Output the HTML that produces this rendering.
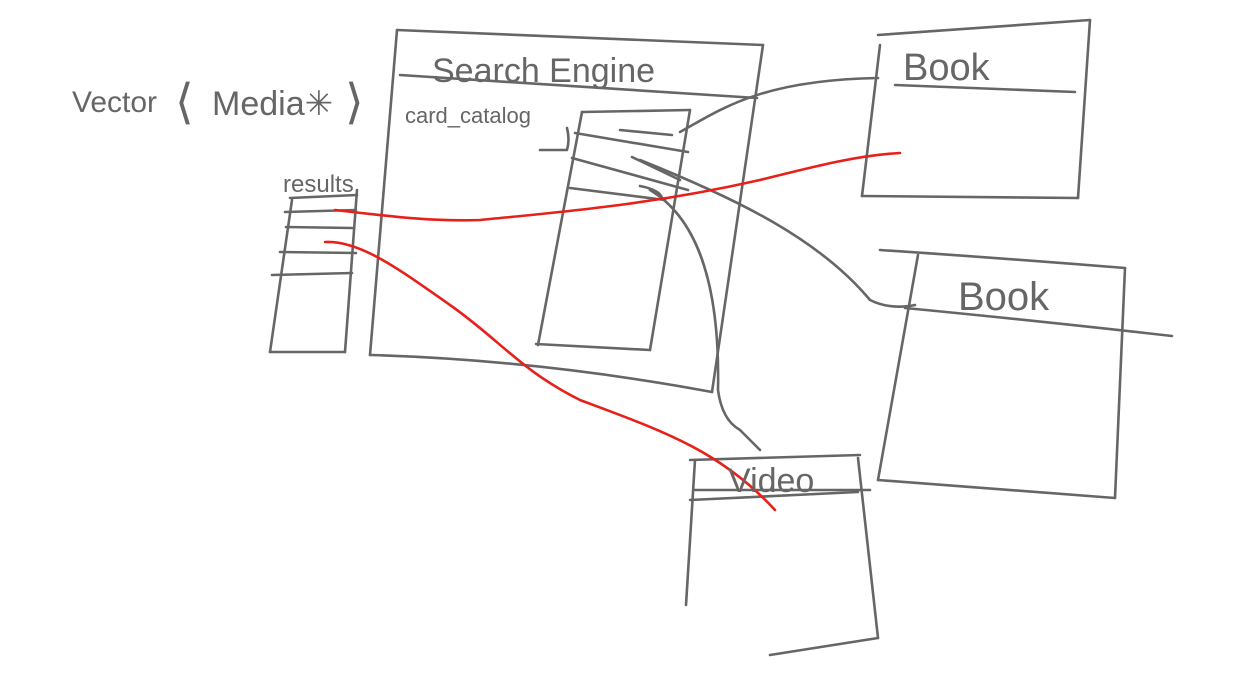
<!DOCTYPE html>
<html><head><meta charset="utf-8"><style>
html,body{margin:0;padding:0;background:#fff;}
svg{display:block;}
text{font-family:"Liberation Sans",sans-serif;fill:#666;}
</style></head><body>
<svg width="1257" height="675" viewBox="0 0 1257 675" xmlns="http://www.w3.org/2000/svg">
<g fill="none" stroke="#666" stroke-width="2.6" stroke-linecap="round" stroke-linejoin="round">
<path d="M397,30 L763,45"/>
<path d="M397,30 L370,355"/>
<path d="M370,355 Q540,360 712,392"/>
<path d="M763,45 L712,392"/>
<path d="M400,75 L757,98"/>
<path d="M582,112 L690,110"/>
<path d="M582,112 L538,345"/>
<path d="M690,110 L650,350"/>
<path d="M536,344 L650,350"/>
<path d="M575,133 L688,152"/>
<path d="M620,130 L672,135"/>
<path d="M572,158 L688,190"/>
<path d="M632,157 L680,180"/>
<path d="M570,188 L665,200"/>
<path d="M640,186 Q660,190 662,198"/>
<path d="M540,150 L567,150 Q570,140 567,128"/>
<path d="M290,198 L357,195"/>
<path d="M285,212 L356,210"/>
<path d="M286,227 L352,228"/>
<path d="M280,252 L356,253"/>
<path d="M272,275 L352,273"/>
<path d="M292,200 L270,352"/>
<path d="M357,190 L345,352"/>
<path d="M270,352 L345,352"/>
<path d="M878,35 L1090,20"/>
<path d="M1090,20 L1078,198"/>
<path d="M880,45 L862,196"/>
<path d="M862,196 L1078,198"/>
<path d="M895,85 L1075,92"/>
<path d="M880,250 Q1000,258 1125,268"/>
<path d="M918,255 L878,480"/>
<path d="M1125,268 L1115,498"/>
<path d="M878,480 L1115,498"/>
<path d="M905,308 Q1030,320 1172,336"/>
<path d="M690,460 L860,455"/>
<path d="M695,460 L686,605"/>
<path d="M858,458 L878,638"/>
<path d="M770,655 L878,638"/>
<path d="M690,500 L858,492"/>
<path d="M695,490 L870,490"/>
<path d="M680,132 C720,110 760,80 878,78"/>
<path d="M640,160 C740,200 820,240 870,300 Q890,310 915,305"/>
<path d="M650,190 C700,220 720,290 718,390 Q722,420 740,430 L760,450"/>
</g>
<g fill="none" stroke="#e8201a" stroke-width="2.6" stroke-linecap="round">
<path d="M335,210 C380,215 430,222 480,220 C560,212 650,205 760,180 C820,165 860,155 900,153"/>
<path d="M325,242 C360,240 400,270 450,305 C500,340 520,370 580,400 C660,430 720,450 775,510"/>
</g>
<text x="72" y="112" font-size="30">Vector</text>
<text x="175" y="118" font-size="48" font-weight="100">⟨</text>
<text x="212" y="115" font-size="34">Media✳</text>
<text x="345" y="118" font-size="48" font-weight="100">⟩</text>
<text x="432" y="82" font-size="34">Search Engine</text>
<text x="405" y="123" font-size="22">card_catalog</text>
<text x="283" y="192" font-size="24">results</text>
<text x="903" y="80" font-size="38">Book</text>
<text x="958" y="310" font-size="40">Book</text>
<text x="728" y="492" font-size="34">Video</text>
</svg>
</body></html>
